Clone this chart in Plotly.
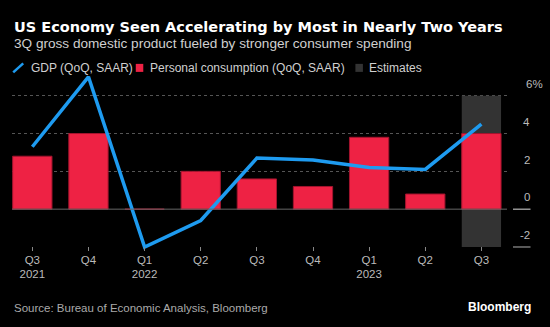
import plotly.graph_objects as go

# ---- data ----
categories = ["Q3 2021", "Q4 2021", "Q1 2022", "Q2 2022", "Q3 2022",
              "Q4 2022", "Q1 2023", "Q2 2023", "Q3 2023"]
x_tick_labels = ["Q3<br>2021", "Q4", "Q1<br>2022", "Q2", "Q3",
                 "Q4", "Q1<br>2023", "Q2", "Q3"]
gdp = [3.3, 7.0, -2.0, -0.6, 2.7, 2.6, 2.2, 2.1, 4.5]
consumption = [2.8, 4.0, 0.0, 2.0, 1.6, 1.2, 3.8, 0.8, 4.0]
estimate_categories = ["Q3 2023"]
estimate_low = [-2]
estimate_high = [6]
y_tick_vals = [-2, 0, 2, 4, 6]
y_tick_text = ["-2", "0", "2", "4", "6%"]
legend_labels = ["GDP (QoQ, SAAR)", "Personal consumption (QoQ, SAAR)", "Estimates"]

title = "US Economy Seen Accelerating by Most in Nearly Two Years"
subtitle = "3Q gross domestic product fueled by stronger consumer spending"
source = "Source: Bureau of Economic Analysis, Bloomberg"

# ---- style ----
W, H = 550, 327
L, R = 12.3, 507.0          # plot area left/right in px
T, B = 73.1, 250.7          # plot area top/bottom in px
BLUE = "#1e9bf0"
RED = "#ee2244"
GRAY = "#333333"
FONT = "Liberation Sans, Arial, sans-serif"


def px_x(px):
    return (px - L) / (R - L)


def px_y(py):
    return (B - py) / (B - T)


fig = go.Figure()

fig.add_trace(go.Bar(
    x=estimate_categories,
    y=[h - l for h, l in zip(estimate_high, estimate_low)],
    base=estimate_low,
    width=0.7,
    marker=dict(color=GRAY, line=dict(width=0)),
    name=legend_labels[2],
    showlegend=False,
))
fig.add_trace(go.Bar(
    x=categories,
    y=consumption,
    width=0.7,
    marker=dict(color=RED, line=dict(color="#a3142e", width=1)),
    name=legend_labels[1],
    showlegend=False,
))
fig.add_trace(go.Scatter(
    x=categories,
    y=gdp,
    mode="lines",
    line=dict(color=BLUE, width=3.5),
    name=legend_labels[0],
    showlegend=False,
))

shapes = []
# zero line
shapes.append(dict(type="line", xref="paper", yref="y", x0=0, x1=1, y0=0, y1=0,
                   line=dict(color="#666666", width=1), layer="above"))
# right-side tick marks at 0 and -2
shapes.append(dict(type="line", xref="paper", yref="y", x0=px_x(513), x1=px_x(530.5),
                   y0=0, y1=0, line=dict(color="#dddddd", width=1)))
shapes.append(dict(type="line", xref="paper", yref="y", x0=px_x(513), x1=px_x(530.5),
                   y0=-2, y1=-2, line=dict(color="#777777", width=1.5)))
# custom legend symbols
shapes.append(dict(type="line", xref="paper", yref="paper",
                   x0=px_x(13.5), y0=px_y(72.5), x1=px_x(23.5), y1=px_y(63.5),
                   line=dict(color=BLUE, width=2.5)))
shapes.append(dict(type="rect", xref="paper", yref="paper",
                   x0=px_x(136), y0=px_y(72), x1=px_x(143.5), y1=px_y(64),
                   fillcolor=RED, line=dict(width=0)))
shapes.append(dict(type="rect", xref="paper", yref="paper",
                   x0=px_x(355.5), y0=px_y(72), x1=px_x(363), y1=px_y(64),
                   fillcolor=GRAY, line=dict(width=0)))

annotations = []
annotations.append(dict(text=f"<b>{title}</b>", xref="paper", yref="paper",
                        x=px_x(12), y=px_y(27), xanchor="left", yanchor="middle",
                        showarrow=False,
                        font=dict(family="DejaVu Sans, sans-serif", size=14.5, color="#ffffff")))
annotations.append(dict(text=subtitle, xref="paper", yref="paper",
                        x=px_x(12), y=px_y(43.8), xanchor="left", yanchor="middle",
                        showarrow=False,
                        font=dict(family=FONT, size=13.6, color="#d0d0d0")))
for lx, lab in zip([29, 148.5, 367.5], legend_labels):
    annotations.append(dict(text=lab, xref="paper", yref="paper",
                            x=px_x(lx), y=px_y(68), xanchor="left", yanchor="middle",
                            showarrow=False,
                            font=dict(family=FONT, size=12, color="#d0d0d0")))
for v, t in zip(y_tick_vals, y_tick_text):
    if t.endswith("%"):
        annotations.append(dict(text=t, xref="paper", yref="y", x=px_x(523.5), y=v,
                                xanchor="left", yanchor="middle", yshift=11.7,
                                showarrow=False,
                                font=dict(family=FONT, size=11.5, color="#bbbbbb")))
    else:
        annotations.append(dict(text=t, xref="paper", yref="y", x=px_x(531.5), y=v,
                                xanchor="right", yanchor="middle", yshift=11.7,
                                showarrow=False,
                                font=dict(family=FONT, size=11.5, color="#bbbbbb")))
annotations.append(dict(text=source, xref="paper", yref="paper",
                        x=px_x(12), y=px_y(308), xanchor="left", yanchor="middle",
                        showarrow=False,
                        font=dict(family=FONT, size=11.5, color="#aaaaaa")))
annotations.append(dict(text="<b>Bloomberg</b>", xref="paper", yref="paper",
                        x=px_x(533), y=px_y(306.5), xanchor="right", yanchor="middle",
                        showarrow=False,
                        font=dict(family=FONT, size=12, color="#ffffff")))

fig.update_layout(
    width=W, height=H,
    margin=dict(l=L, r=W - R, t=T, b=H - B, pad=0),
    paper_bgcolor="#000000",
    plot_bgcolor="#000000",
    barmode="overlay",
    showlegend=False,
    shapes=shapes,
    annotations=annotations,
    xaxis=dict(
        type="category",
        categoryorder="array", categoryarray=categories,
        range=[-0.362, 8.456],
        tickmode="array", tickvals=categories, ticktext=x_tick_labels,
        ticks="inside", ticklen=4, tickcolor="#888888", tickwidth=1,
        showgrid=False, zeroline=False, showline=False,
        tickfont=dict(family=FONT, size=11.5, color="#bbbbbb"),
    ),
    yaxis=dict(
        range=[-2.212, 7.2],
        tickmode="array", tickvals=[2, 4, 6],
        showticklabels=False,
        showgrid=True, gridcolor="#555555", gridwidth=1, griddash="dot",
        zeroline=False, showline=False,
    ),
)

fig.write_html("out.html")
